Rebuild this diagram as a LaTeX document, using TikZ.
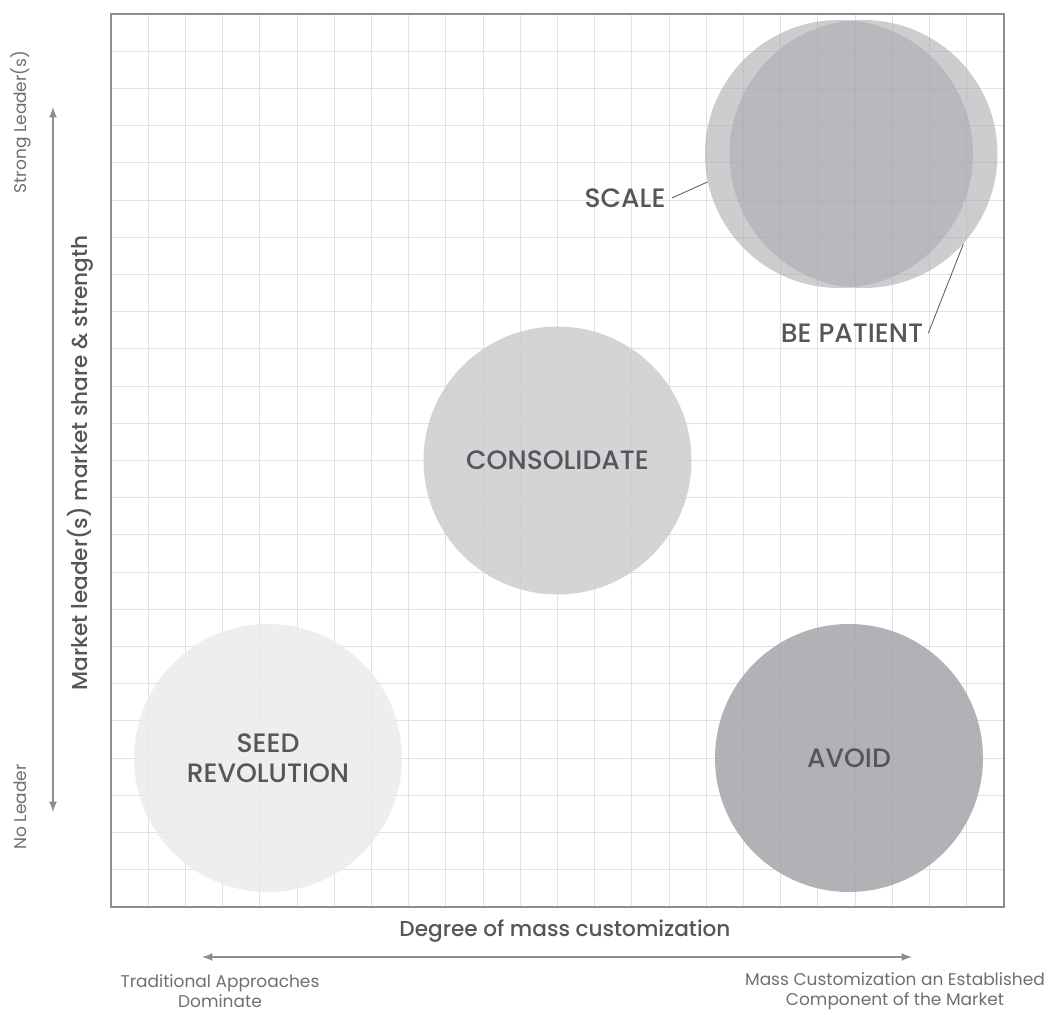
\documentclass[tikz,border=0pt]{standalone}
\usepackage{fontspec}
\setmainfont{Poppins}
\newfontfamily\medfont{Poppins Medium}
\usepackage{tikz}
\usetikzlibrary{arrows}

\definecolor{gridline}{RGB}{224,225,227}
\definecolor{frameline}{RGB}{140,141,144}
\definecolor{seedfill}{RGB}{235,235,236}
\definecolor{consfill}{RGB}{203,204,207}
\definecolor{avoidfill}{RGB}{164,165,169}
\definecolor{scalefill}{RGB}{170,171,175}
\definecolor{labeltext}{RGB}{85,86,89}
\definecolor{smalltext}{RGB}{110,111,114}

\begin{document}
\begin{tikzpicture}[x=0.5pt, y=0.5pt,
  bubble/.style={circle, minimum size=134pt, inner sep=0pt,
                 font=\medfont\fontsize{13.3}{15}\selectfont,
                 text=labeltext, align=center, fill opacity=0.85, text opacity=1},
  axistitle/.style={font=\medfont\fontsize{10.8}{13}\selectfont, text=labeltext},
  endnote/.style={font=\fontsize{8.5}{10}\selectfont, text=smalltext, align=center},
  leader/.style={draw=labeltext, line width=0.4pt}]

\useasboundingbox (0,0) rectangle (1050,1014);

% grid, 24 x 24 cells
\foreach \i in {1,...,23} {
  \draw[gridline, line width=0.5pt] (111+37.208*\i,107) -- (111+37.208*\i,1000);
  \draw[gridline, line width=0.5pt] (111,107+37.208*\i) -- (1004,107+37.208*\i);
}
\draw[frameline, line width=0.9pt] (111,107) rectangle (1004,1000);

% bubbles, the grid shows faintly through them
\node[bubble, fill=seedfill] (seed) at (268,256) {SEED\\REVOLUTION};
\node[bubble, fill=consfill] (consolidate) at (557.5,553.5) {CONSOLIDATE};
\node[bubble, fill=avoidfill] (avoid) at (849,256) {AVOID};
\node[bubble, fill=scalefill, fill opacity=0.6] (scale) at (839,860) {};
\node[bubble, fill=scalefill, fill opacity=0.6] (patient) at (863.5,860) {};

% call-outs for the two top circles
\node[bubble, minimum size=0pt, inner sep=2pt] (scaletext) at (625,816) {SCALE};
\node[bubble, minimum size=0pt, inner sep=2pt] (patienttext) at (852,681) {BE PATIENT};
\draw[leader] (scaletext.east) -- (scale.192);
\draw[leader] (patienttext.east) -- (patient.318);

% vertical axis
\node[axistitle, rotate=90] (ytitle) at (80,551) {Market leader(s) market share \& strength};
\node[endnote, rotate=90] (strong) at (21,892) {Strong Leader(s)};
\node[endnote, rotate=90] (noleader) at (20,207) {No Leader};
\coordinate (ytop) at (53,907);
\coordinate (ybot) at (53,202);
\draw[frameline, line width=0.8pt, latex-latex] (ybot) -- (ytop);

% horizontal axis
\node[axistitle] (xtitle) at (565,83) {Degree of mass customization};
\coordinate (xleft) at (202,57);
\coordinate (xright) at (912,57);
\draw[frameline, line width=0.8pt, latex-latex] (xleft) -- (xright);
\node[endnote] (traditional) at (220,23) {Traditional Approaches\\Dominate};
\node[endnote] (established) at (895,23) {Mass Customization an Established\\Component of the Market};
\end{tikzpicture}
\end{document}
